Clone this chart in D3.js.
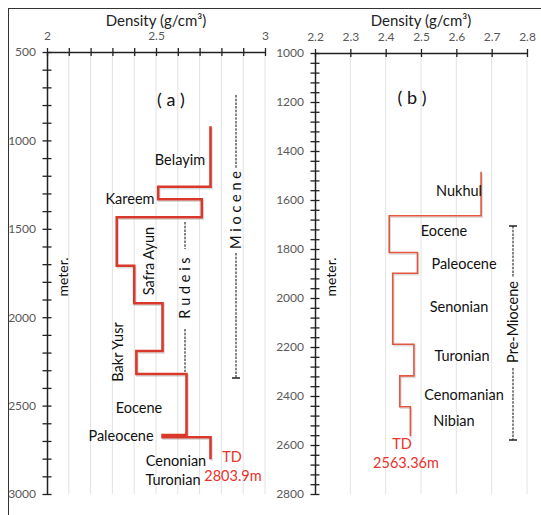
<!DOCTYPE html>
<html>
<head>
<meta charset="utf-8">
<script src="https://cdn.jsdelivr.net/npm/d3@7"></script>
<style>
  body { margin: 0; background: #fff; }
  text { font-family: Lato, "Open Sans", sans-serif; }
</style>
</head>
<body>
<script>
// well (a) - top depths of each step and density in each step
var depthsA = [920, 1262, 1333, 1435, 1709, 1921, 2191, 2321, 2666, 2679, 2804]
var densA = [2.75, 2.51, 2.71, 2.32, 2.40, 2.53, 2.41, 2.64, 2.53, 2.75]
// well (b)
var depthsB = [1485, 1664, 1814, 1899, 2189, 2318, 2444, 2564]
var densB = [2.67, 2.41, 2.49, 2.42, 2.48, 2.44, 2.47]

var xTicksA = [2, 2.1, 2.2, 2.3, 2.4, 2.5, 2.6, 2.7, 2.8, 2.9, 3]
var xLabelsA = [2, 2.5, 3]
var yLabelsA = [500, 1000, 1500, 2000, 2500, 3000]
var xTicksB = [2.2, 2.3, 2.4, 2.5, 2.6, 2.7, 2.8]
var yLabelsB = [1000, 1200, 1400, 1600, 1800, 2000, 2200, 2400, 2600, 2800]

var width = 541
var height = 515

var svg = d3.select("body")
    .append("svg")
    .attr("width", width)
    .attr("height", height)

// frame (only top and left edges show)
svg.append("line").attr("x1", 8).attr("x2", 541).attr("y1", 8.5).attr("y2", 8.5)
    .attr("stroke", "#333").attr("stroke-width", 1)
svg.append("line").attr("x1", 8.5).attr("x2", 8.5).attr("y1", 8).attr("y2", 515)
    .attr("stroke", "#333").attr("stroke-width", 1)

var xA = d3.scaleLinear().domain([2, 3]).range([47, 265])
var yA = d3.scaleLinear().domain([500, 3000]).range([52, 494])
var xB = d3.scaleLinear().domain([2.2, 2.8]).range([315, 527])
var yB = d3.scaleLinear().domain([1000, 2800]).range([53, 494])

drawPanel(xA, yA, xTicksA, xLabelsA, d3.range(500, 3001, 100), yLabelsA, d3.format("")) 
drawPanel(xB, yB, xTicksB, xTicksB, d3.range(1000, 2801, 40), yLabelsB, d3.format(".1f"))

drawStep(xA, yA, depthsA, densA, "#d8392b", 2.6)
drawStep(xB, yB, depthsB, densB, "#e4563f", 1.6)

function drawPanel(x, y, xticks, xlabels, yticks, ylabels, fmt) {
    var top = y.range()[0], bottom = y.range()[1]
    var left = x.range()[0]

    // grid
    svg.append("g").selectAll("line")
        .data(xticks.slice(1))
        .enter().append("line")
        .attr("x1", function(d) { return x(d) }).attr("x2", function(d) { return x(d) })
        .attr("y1", top).attr("y2", bottom)
        .attr("stroke", "#e2e2e2").attr("stroke-width", 1)

    // top axis
    var gx = svg.append("g").attr("transform", "translate(0," + top + ")")
        .call(d3.axisTop(x).tickValues(xticks).tickSize(0)
            .tickFormat(function(d) { return xlabels.indexOf(d) > -1 ? fmt(d) : "" }))
    gx.select(".domain").attr("stroke", "#222").attr("stroke-width", 1.5)
    gx.selectAll(".tick line").attr("y1", -4).attr("y2", 4).attr("stroke", "#222").attr("stroke-width", 1.3)
    gx.selectAll(".tick text").attr("y", -12).attr("font-size", 12).attr("fill", "#595959")
        .attr("font-family", "Lato, sans-serif")

    // left axis
    var gy = svg.append("g").attr("transform", "translate(" + left + ",0)")
        .call(d3.axisLeft(y).tickValues(yticks).tickSize(0)
            .tickFormat(function(d) { return ylabels.indexOf(d) > -1 ? d : "" }))
    gy.select(".domain").attr("stroke", "#222").attr("stroke-width", 1.5)
    gy.selectAll(".tick line").attr("x1", -4.5).attr("x2", 4.5).attr("stroke", "#222").attr("stroke-width", 1.3)
    gy.selectAll(".tick text").attr("x", -11).attr("font-size", 12).attr("fill", "#595959")
        .attr("font-family", "Lato, sans-serif")

    svg.append("text")
        .attr("x", (x.range()[0] + x.range()[1]) / 2).attr("y", 26)
        .attr("text-anchor", "middle").attr("font-size", 15).attr("fill", "#222")
        .text("Density (g/cm³)")

    svg.append("text")
        .attr("transform", "translate(" + (left + 16) + ",277) rotate(-90)")
        .attr("text-anchor", "middle").attr("dy", "0.35em")
        .attr("font-size", 14).attr("fill", "#111")
        .text("meter.")
}

function drawStep(x, y, depths, dens, color, w) {
    var pts = []
    for (var i = 0; i < dens.length; i++) {
        pts.push([dens[i], depths[i]])
        pts.push([dens[i], depths[i + 1]])
    }
    var line = d3.line()
        .x(function(d) { return x(d[0]) })
        .y(function(d) { return y(d[1]) })
    // faint shadow like the original
    svg.append("path").attr("d", line(pts))
        .attr("transform", "translate(1,1.5)")
        .attr("fill", "none").attr("stroke", "#999").attr("stroke-opacity", 0.35)
        .attr("stroke-width", w)
    svg.append("path").attr("d", line(pts))
        .attr("fill", "none").attr("stroke", color).attr("stroke-width", w)
        .attr("stroke-linejoin", "miter")
}

// plain labels
function label(t, x, y, size, color) {
    svg.append("text").attr("x", x).attr("y", y).attr("dy", "0.35em")
        .attr("text-anchor", "middle").attr("font-size", size).attr("fill", color || "#111")
        .text(t)
}
function vlabel(t, x, y, size) {
    svg.append("text")
        .attr("transform", "translate(" + x + "," + y + ") rotate(-90)")
        .attr("text-anchor", "middle").attr("dy", "0.35em")
        .attr("font-size", size).attr("fill", "#111")
        .text(t)
}
function dash(x, y1, y2) {
    svg.append("line").attr("x1", x).attr("x2", x).attr("y1", y1).attr("y2", y2)
        .attr("stroke", "#222").attr("stroke-width", 1.1).attr("stroke-dasharray", "2.5,1.2")
}
function bar(x, y) {
    svg.append("line").attr("x1", x - 4).attr("x2", x + 4).attr("y1", y).attr("y2", y)
        .attr("stroke", "#222").attr("stroke-width", 1.5)
}

label("( a )", 171, 100, 18)
label("Belayim", 180, 160, 14.5)
label("Kareem", 130, 199, 14.5)
vlabel("Safra  Ayun", 149, 261, 14.5)
vlabel("R u d e i s", 185, 288, 14.5)
dash(185, 222, 249); dash(185, 329, 372)
vlabel("M i o c e n e", 236, 210, 14.5)
dash(236, 95, 168); dash(236, 253, 378); bar(236, 378)
vlabel("Bakr  Yusr", 118, 352, 14.5)
label("Eocene", 139, 408, 14.5)
label("Paleocene", 121, 436, 14.5)
label("Cenonian", 176, 461, 14.5)
label("Turonian", 173, 480, 14.5)
label("TD", 232, 457, 14.5, "#e8322a")
label("2803.9m", 233, 476, 14.5, "#e8322a")

label("( b )", 412, 98, 18)
label("Nukhul", 459, 191, 14.5)
label("Eocene", 444, 231, 14.5)
label("Paleocene", 464, 264, 14.5)
label("Senonian", 459, 307, 14.5)
label("Turonian", 462, 356, 14.5)
label("Cenomanian", 464, 395, 14.5)
label("Nibian", 454, 421, 14.5)
label("TD", 402, 444, 14.5, "#e8322a")
label("2563.36m", 406, 463, 14.5, "#e8322a")
vlabel("Pre-Miocene", 513, 322, 14.5)
dash(513, 226, 277); dash(513, 368, 440); bar(513, 226); bar(513, 440)
</script>
</body>
</html>
